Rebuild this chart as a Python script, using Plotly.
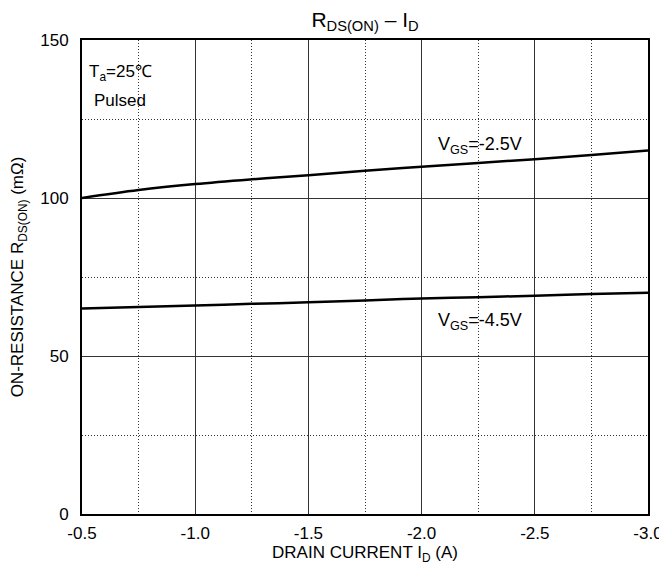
import plotly.graph_objects as go

# Data
id_vals = [-0.5, -0.75, -1.0, -1.25, -1.5, -1.75, -2.0, -2.25, -2.5, -2.75, -3.0]
r_vgs_25 = [100, 102.5, 104.4, 105.9, 107.2, 108.6, 109.9, 111.1, 112.3, 113.6, 115.0]
r_vgs_45 = [65.0, 65.5, 66.0, 66.5, 67.0, 67.6, 68.2, 68.6, 69.1, 69.6, 70.0]

x_ticks = [-0.5, -1.0, -1.5, -2.0, -2.5, -3.0]
y_ticks = [0, 50, 100, 150]

FONT = "Liberation Sans, Arial, sans-serif"

fig = go.Figure()
fig.add_trace(go.Scatter(x=id_vals, y=r_vgs_25, mode="lines", line_shape="spline",
                         line=dict(color="black", width=2.5), showlegend=False))
fig.add_trace(go.Scatter(x=id_vals, y=r_vgs_45, mode="lines", line_shape="spline",
                         line=dict(color="black", width=2.5), showlegend=False))

fig.add_annotation(x=-2.26, y=116.5, text="V<sub>GS</sub>=-2.5V", showarrow=False,
                   font=dict(size=18, color="black", family=FONT))
fig.add_annotation(x=-2.26, y=60.9, text="V<sub>GS</sub>=-4.5V", showarrow=False,
                   font=dict(size=18, color="black", family=FONT))
fig.add_annotation(x=-0.523, y=139.6, xanchor="left", text="T<sub>a</sub>=25℃", showarrow=False,
                   font=dict(size=17, color="black", family=FONT))
fig.add_annotation(x=-0.545, y=130.7, xanchor="left", text="Pulsed", showarrow=False,
                   font=dict(size=17, color="black", family=FONT))

# page body has an 8px margin: size/margins compensate so the plot area lands at 82..648 x 40..514
fig.update_layout(
    width=659, height=558,
    margin=dict(l=74, r=19, t=32, b=52),
    paper_bgcolor="white", plot_bgcolor="white",
    font=dict(family=FONT, color="black", size=16),
    title=dict(text="R<sub>DS(ON)</sub> – I<sub>D</sub>", x=0.5, xref="paper", xanchor="center",
               y=0.979, yanchor="middle", font=dict(size=21, family=FONT, color="black")),
)
fig.update_xaxes(
    range=[-0.5, -3.0], tickvals=x_ticks, ticktext=[f"{v:.1f}" for v in x_ticks],
    showgrid=True, gridcolor="#333333", gridwidth=1,
    minor=dict(dtick=0.25, tick0=-0.5, showgrid=True, gridcolor="#333333",
               griddash="1px,2px", gridwidth=1),
    showline=True, linecolor="black", linewidth=2, mirror=True,
    ticks="", zeroline=False, automargin=False, ticklabelstandoff=3,
    title=dict(text="DRAIN CURRENT I<sub>D</sub> (A)", font=dict(size=17, family=FONT), standoff=2),
    tickfont=dict(size=17, family=FONT),
)
fig.update_yaxes(
    range=[0, 150], tickvals=y_ticks,
    showgrid=True, gridcolor="#333333", gridwidth=1,
    minor=dict(dtick=25, tick0=0, showgrid=True, gridcolor="#333333",
               griddash="1px,2px", gridwidth=1),
    showline=True, linecolor="black", linewidth=2, mirror=True,
    ticks="", zeroline=False, automargin=False, ticklabelstandoff=8,
    title=dict(text="ON-RESISTANCE R<sub>DS(ON)</sub> (mΩ)", font=dict(size=17, family=FONT), standoff=12),
    tickfont=dict(size=17, family=FONT),
)

fig.write_html("out.html")
